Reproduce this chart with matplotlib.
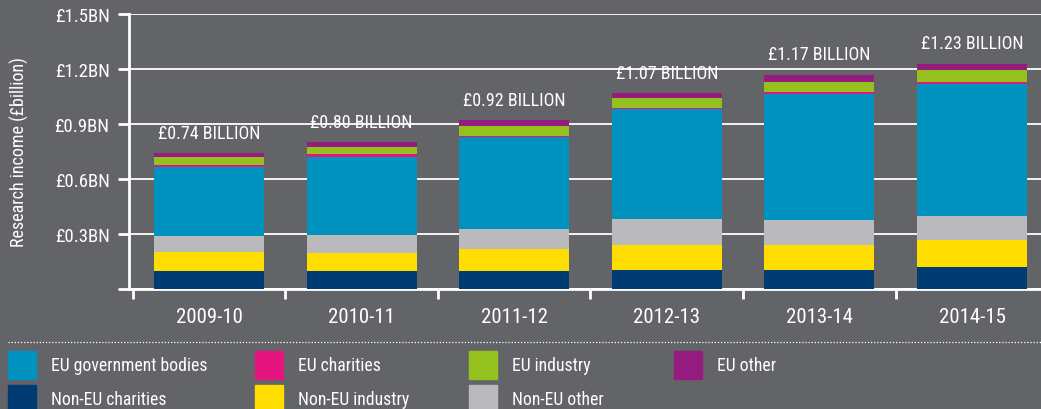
import matplotlib.pyplot as plt
from matplotlib.patches import Rectangle
from matplotlib.lines import Line2D
import numpy as np

plt.rcParams['font.family'] = ['Roboto Condensed', 'Archivo Narrow', 'DejaVu Sans']

years = ['2009-10', '2010-11', '2011-12', '2012-13', '2013-14', '2014-15']

# research income by source, £ billion (stacked bottom to top)
non_eu_charities = [0.100, 0.097, 0.100, 0.106, 0.106, 0.120]
non_eu_industry = [0.100, 0.102, 0.120, 0.136, 0.136, 0.147]
non_eu_other = [0.090, 0.097, 0.108, 0.142, 0.136, 0.131]
eu_government = [0.375, 0.425, 0.500, 0.596, 0.687, 0.720]
eu_charities = [0.012, 0.013, 0.005, 0.005, 0.011, 0.012]
eu_industry = [0.041, 0.040, 0.054, 0.058, 0.054, 0.062]
eu_other = [0.022, 0.026, 0.033, 0.027, 0.040, 0.038]

series = [
    ('Non-EU charities', non_eu_charities, '#003B73'),
    ('Non-EU industry', non_eu_industry, '#FFDD00'),
    ('Non-EU other', non_eu_other, '#BABABC'),
    ('EU government bodies', eu_government, '#0093BF'),
    ('EU charities', eu_charities, '#E5157F'),
    ('EU industry', eu_industry, '#95C11F'),
    ('EU other', eu_other, '#951B81'),
]
legend_order = ['EU government bodies', 'EU charities', 'EU industry', 'EU other',
                'Non-EU charities', 'Non-EU industry', 'Non-EU other']

bg = '#636468'
fig = plt.figure(figsize=(10.41, 4.10), dpi=100, facecolor=bg)
ax = fig.add_axes([0.1239, 0.2927, 0.8761, 0.6707])
ax.set_facecolor(bg)

x = np.arange(len(years))
bottom = np.zeros(len(years))
for name, vals, col in series:
    ax.bar(x, vals, 0.72, bottom=bottom, color=col, zorder=3)
    bottom += np.array(vals)

for xi, tot in zip(x, bottom):
    ax.annotate(f'£{tot:.2f} BILLION', (xi, tot), xytext=(0, 8),
                textcoords='offset points', ha='center', va='bottom',
                color='white', fontsize=13)

ax.set_ylim(0, 1.5)
ax.set_xlim(-0.524, 5.452)
yt = [0, 0.3, 0.6, 0.9, 1.2, 1.5]
ax.set_yticks(yt)
ax.set_yticklabels([''] + [f'£{v:.1f}BN' for v in yt[1:]])
ax.set_xticks(x)
ax.set_xticklabels(years)
ax.set_xticks(np.arange(-0.5, 5.5, 1), minor=True)
ax.tick_params(axis='y', colors='white', labelcolor='white', length=8, width=2,
               labelsize=13.5, pad=6)
ax.tick_params(axis='x', which='major', length=0, labelcolor='white',
               labelsize=15, pad=13)
ax.tick_params(axis='x', which='minor', colors='white', length=7, width=2)
ax.grid(axis='y', color='white', lw=1.3, zorder=1)
for s in ['top', 'right']:
    ax.spines[s].set_visible(False)
for s in ['left', 'bottom']:
    ax.spines[s].set_color('white')
    ax.spines[s].set_linewidth(2)
ax.set_ylabel('Research income (£billion)', color='white', fontsize=13)
ax.yaxis.set_label_coords(-0.11, 0.5)

# legend block below the chart
W, H = 1041, 410
fig.add_artist(Line2D([8 / W, 1], [1 - 343 / H] * 2, color='white', lw=0.9,
                      ls=(0, (1, 1.5)), transform=fig.transFigure))
colors = {name: col for name, _, col in series}
col_x = [8, 255, 469, 674]
row_y = [352, 386]
for i, name in enumerate(legend_order):
    cx, ry = col_x[i % 4], row_y[i // 4]
    fig.add_artist(Rectangle((cx / W, 1 - (ry + 28) / H), 28 / W, 28 / H,
                             color=colors[name], transform=fig.transFigure))
    fig.text((cx + 43) / W, 1 - (ry + 14) / H, name, color='white',
             fontsize=12.7, va='center', ha='left')

fig.savefig('out.png', dpi=100, facecolor=bg)
